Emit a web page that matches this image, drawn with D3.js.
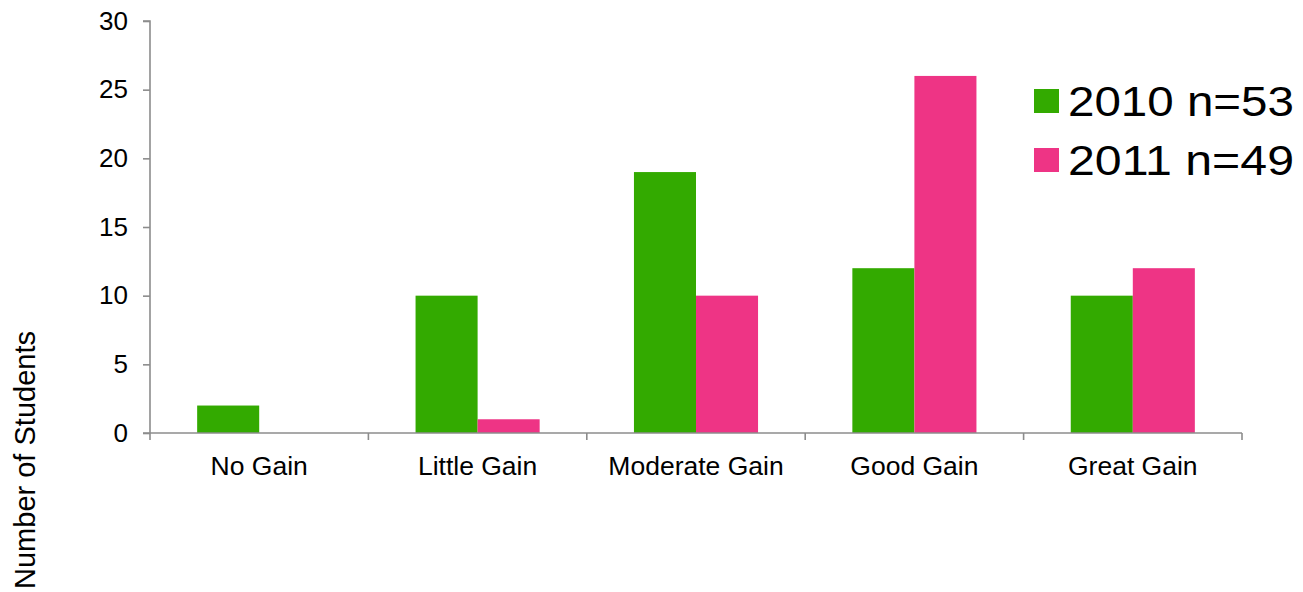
<!DOCTYPE html>
<html>
<head>
<meta charset="utf-8">
<script src="https://cdn.jsdelivr.net/npm/d3@7"></script>
<style>
  html, body { margin: 0; padding: 0; background: #fff; }
  svg { display: block; font-family: "Liberation Sans", Arial, sans-serif; }
</style>
</head>
<body>
<svg id="chart" width="1303" height="592"></svg>
<script>
const categories = ["No Gain", "Little Gain", "Moderate Gain", "Good Gain", "Great Gain"];
const seriesNames = ["2010 n=53", "2011 n=49"];
const values2010 = [2, 10, 19, 12, 10];
const values2011 = [0, 1, 10, 26, 12];
const yTicks = [0, 5, 10, 15, 20, 25, 30];
const colors = ["#33AA00", "#EE3485"];

(function () {
const svg = d3.select("#chart");
const plotLeft = 150, plotRight = 1242, plotTop = 21, plotBottom = 433;

const x0 = d3.scaleBand().domain(categories).range([plotLeft, plotRight]).padding(0);
const x1 = d3.scaleBand().domain(seriesNames).range([0, x0.bandwidth()]).paddingInner(0).paddingOuter(0.76);
const y = d3.scaleLinear().domain([0, 30]).range([plotBottom, plotTop]);
const color = d3.scaleOrdinal().domain(seriesNames).range(colors);

const seriesValues = [values2010, values2011];

// bars
categories.forEach((c, i) => {
  seriesNames.forEach((s, j) => {
    const v = seriesValues[j][i];
    if (v <= 0) return;
    svg.append("rect")
      .attr("x", x0(c) + x1(s))
      .attr("y", y(v))
      .attr("width", x1.bandwidth())
      .attr("height", y(0) - y(v))
      .attr("fill", color(s));
  });
});

const axisColor = "#8c8c8c";

// y axis
const yAxis = svg.append("g")
  .attr("transform", `translate(${plotLeft},0)`)
  .call(d3.axisLeft(y).tickValues(yTicks).tickSize(7).tickPadding(15).tickFormat(d3.format("d")));
yAxis.selectAll("path, line").attr("stroke", axisColor).attr("stroke-width", 1.6);
yAxis.select(".domain").attr("d", `M-7,${plotTop}H0V${plotBottom}`);
yAxis.selectAll("text").attr("font-size", 26).attr("fill", "#000")
  .attr("font-family", "Liberation Sans, Arial, sans-serif");

// x axis baseline
const xg = svg.append("g");
xg.append("line").attr("x1", plotLeft - 7).attr("x2", plotRight).attr("y1", y(0)).attr("y2", y(0))
  .attr("stroke", axisColor).attr("stroke-width", 1.6);
const boundaries = categories.map(c => x0(c)).concat([x0(categories[categories.length - 1]) + x0.bandwidth()]);
xg.selectAll("line.tick").data(boundaries).enter().append("line")
  .attr("class", "tick")
  .attr("x1", d => d).attr("x2", d => d)
  .attr("y1", y(0)).attr("y2", y(0) + 7)
  .attr("stroke", axisColor).attr("stroke-width", 1.6);
xg.selectAll("text").data(categories).enter().append("text")
  .attr("x", d => x0(d) + x0.bandwidth() / 2)
  .attr("y", 475)
  .attr("text-anchor", "middle")
  .attr("font-size", 26.5)
  .attr("fill", "#000")
  .text(d => d);

// y label
svg.append("text")
  .attr("transform", "translate(35,460) rotate(-90)")
  .attr("text-anchor", "middle")
  .attr("font-size", 29)
  .attr("fill", "#000")
  .text("Number of Students");

// legend
const legend = svg.append("g");
seriesNames.forEach((s, i) => {
  const cy = 101 + i * 59;
  legend.append("rect")
    .attr("x", 1034).attr("y", cy - 12)
    .attr("width", 25).attr("height", 24)
    .attr("fill", color(s));
  legend.append("text")
    .attr("x", 1068).attr("y", cy)
    .attr("dy", "0.36em")
    .attr("font-size", 42)
    .attr("fill", "#000")
    .attr("textLength", 226)
    .attr("lengthAdjust", "spacingAndGlyphs")
    .text(s);
});
})();
</script>
</body>
</html>
